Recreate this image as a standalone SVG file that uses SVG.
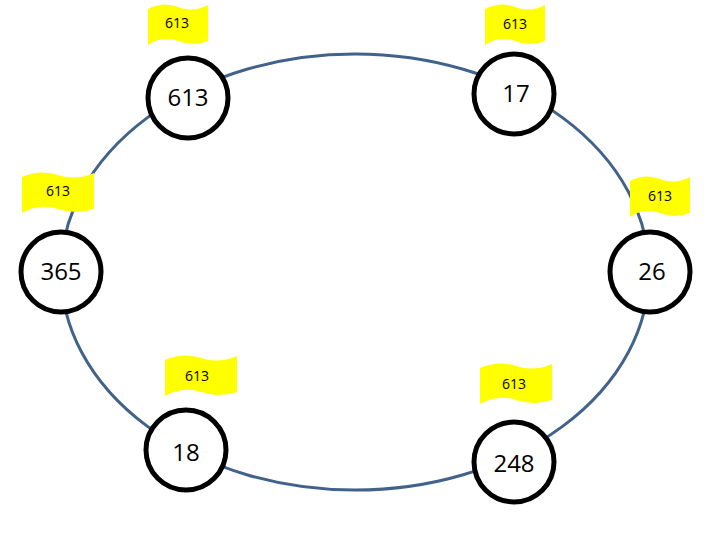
<svg xmlns="http://www.w3.org/2000/svg" width="720" height="540" viewBox="0 0 720 540">
<style>
.n{fill:#fff;stroke:#000;stroke-width:5}
.t{font-family:"Open Sans","DejaVu Sans",sans-serif;font-size:24px;text-anchor:middle;fill:#000}
.f{fill:#ffff00}
.ft{font-family:"Open Sans","DejaVu Sans",sans-serif;font-size:14px;text-anchor:middle;fill:#000}
</style>
<defs>
<path id="flag" d="M0,4 Q15,-4 30,2 T60,0 V36 Q45,42 30,36 T0,40 Z"/>
</defs>
<rect width="720" height="540" fill="#fff"/>
<g id="connectors"><ellipse cx="355" cy="272" rx="294" ry="218" fill="none" stroke="#41628a" stroke-width="3"/></g>
<g id="flag1"><use href="#flag" class="f" x="148" y="5"/><text class="ft" x="177" y="28">613</text></g>
<g id="flag2"><use href="#flag" class="f" x="485" y="5"/><text class="ft" x="515" y="29">613</text></g>
<g id="flag3"><use href="#flag" class="f" x="22" y="173" transform="translate(22,173) scale(1.2,1) translate(-22,-173)"/><text class="ft" x="58" y="196">613</text></g>
<g id="flag4"><use href="#flag" class="f" x="630" y="177"/><text class="ft" x="660" y="201">613</text></g>
<g id="flag5"><use href="#flag" class="f" x="165" y="356" transform="translate(165,356) scale(1.2,1) translate(-165,-356)"/><text class="ft" x="197" y="381">613</text></g>
<g id="flag6"><use href="#flag" class="f" x="480" y="364" transform="translate(480,364) scale(1.2,1) translate(-480,-364)"/><text class="ft" x="514" y="389">613</text></g>
<g id="n1"><circle class="n" cx="188" cy="98" r="40"/><text class="t" x="188" y="106">613</text></g>
<g id="n2"><circle class="n" cx="514" cy="94" r="40"/><text class="t" x="516" y="102">17</text></g>
<g id="n3"><circle class="n" cx="61" cy="272" r="40"/><text class="t" x="61" y="280">365</text></g>
<g id="n4"><circle class="n" cx="650" cy="272" r="40"/><text class="t" x="652" y="280">26</text></g>
<g id="n5"><circle class="n" cx="186" cy="450" r="40"/><text class="t" x="186" y="461">18</text></g>
<g id="n6"><circle class="n" cx="514" cy="462" r="40"/><text class="t" x="514" y="472">248</text></g>
</svg>
